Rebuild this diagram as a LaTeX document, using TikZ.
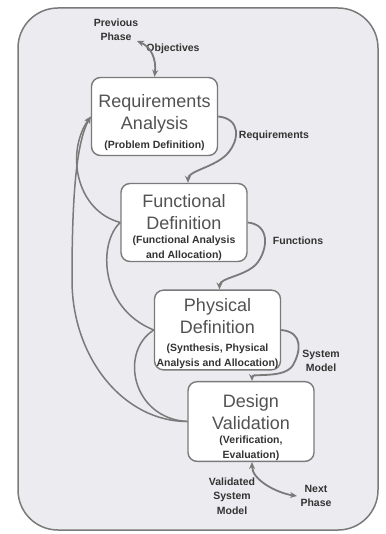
\documentclass[tikz,border=0pt]{standalone}
\usepackage{fontspec}
\setmainfont{Liberation Sans}
\usetikzlibrary{arrows.meta,positioning}
\definecolor{edgegray}{HTML}{7A7A7A}
\definecolor{panelgray}{HTML}{ECECF0}
\definecolor{inkgray}{HTML}{333333}
\newcommand{\phasefont}{\fontsize{10.5}{13.5}\selectfont\bfseries\color{inkgray}}

\begin{document}
\begin{tikzpicture}[x=1pt,y=-1pt,
    phase/.style={draw=edgegray, line width=1.4pt, fill=white, rounded corners=9pt,
        align=center, inner sep=1pt, minimum width=126pt, minimum height=78pt,
        text=inkgray!85, font=\fontsize{18}{22}\selectfont},
    flow/.style={draw=edgegray, line width=1.8pt, -{Stealth[length=7pt,width=6pt]}},
    twoway/.style={draw=edgegray, line width=1.8pt, {Stealth[length=7pt,width=6pt]}-{Stealth[length=7pt,width=6pt]}},
    back/.style={draw=edgegray, line width=1.5pt},
    lbl/.style={align=center, text=inkgray, font=\fontsize{10.5}{14.5}\selectfont\bfseries}]
    \useasboundingbox (0,0) rectangle (385,534);
    \draw[draw=edgegray, line width=1.5pt, fill=panelgray, rounded corners=40pt] (18,8) rectangle (378,530);

    % the four phases
    \node[phase] (ra) at (154.5,116.5) {\rule{0pt}{25.5pt}Requirements\\Analysis\\[-3pt]\phasefont (Problem Definition)};
    \node[phase] (fd) at (184,222.5) {\rule{0pt}{22.5pt}Functional\\Definition\\[-8pt]\phasefont (Functional Analysis\\[-7pt]\phasefont and Allocation)};
    \node[phase] (pd) at (217.5,330) {\rule{0pt}{20.5pt}Physical\\Definition\\[-4pt]\phasefont (Synthesis, Physical\\[-7pt]\phasefont Analysis and Allocation)};
    \node[phase] (dv) at (251,421.5) {\rule{0pt}{24.5pt}Design\\Validation\\[-8pt]\phasefont (Verification,\\[-7pt]\phasefont Evaluation)};

    % labels
    \node[lbl] (prevphase) at (116,30) {Previous\\Phase};
    \node[lbl] (objectives) at (173,49) {Objectives};
    \node[lbl] (reqlbl) at (274,136) {Requirements};
    \node[lbl] (funclbl) at (298,241) {Functions};
    \node[lbl] (modellbl) at (321,361) {System\\Model};
    \node[lbl] (validlbl) at (232,496) {Validated\\System\\Model};
    \node[lbl] (nextphase) at (316,496) {Next\\Phase};
    \coordinate (prevtip) at (137,41);

    % forward flow
    \draw[twoway] (prevtip) .. controls +(14,6) and +(2,-18) .. (ra.north);
    \draw[flow] (ra.east) .. controls +(22,2) and +(12,-14) .. (228,153)
        .. controls +(-12,14) and +(0,-12) .. ([xshift=4pt]fd.north);
    \draw[flow] (fd.east) .. controls +(22,2) and +(10,-14) .. (258,262)
        .. controls +(-10,14) and +(0,-12) .. ([xshift=2pt]pd.north);
    \draw[flow] (pd.east) .. controls +(22,2) and +(8,-14) .. (293,365)
        .. controls +(-8,14) and +(0,-8) .. ([xshift=1pt]dv.north);
    \draw[twoway] ([xshift=1pt]dv.south) .. controls +(0,18) and +(-20,-3) .. (nextphase.west);

    % feedback
    \draw[back] (fd.west) .. controls +(-22,19.5) and +(-55,-22) .. (pd.west);
    \draw[back] (dv.west) .. controls +(-55,-3) and +(-35,22) .. (pd.west);
    \draw[back, -{Stealth[length=7pt,width=6pt]}] (fd.west) .. controls +(-45,-12) and +(-25,35) .. (ra.west);
    \draw[back, -{Stealth[length=7pt,width=6pt]}] (dv.west) .. controls +(-63.5,0) and +(0,78) .. (72,280)
        .. controls +(0,-70) and +(-16,28) .. (ra.west);
\end{tikzpicture}
\end{document}
